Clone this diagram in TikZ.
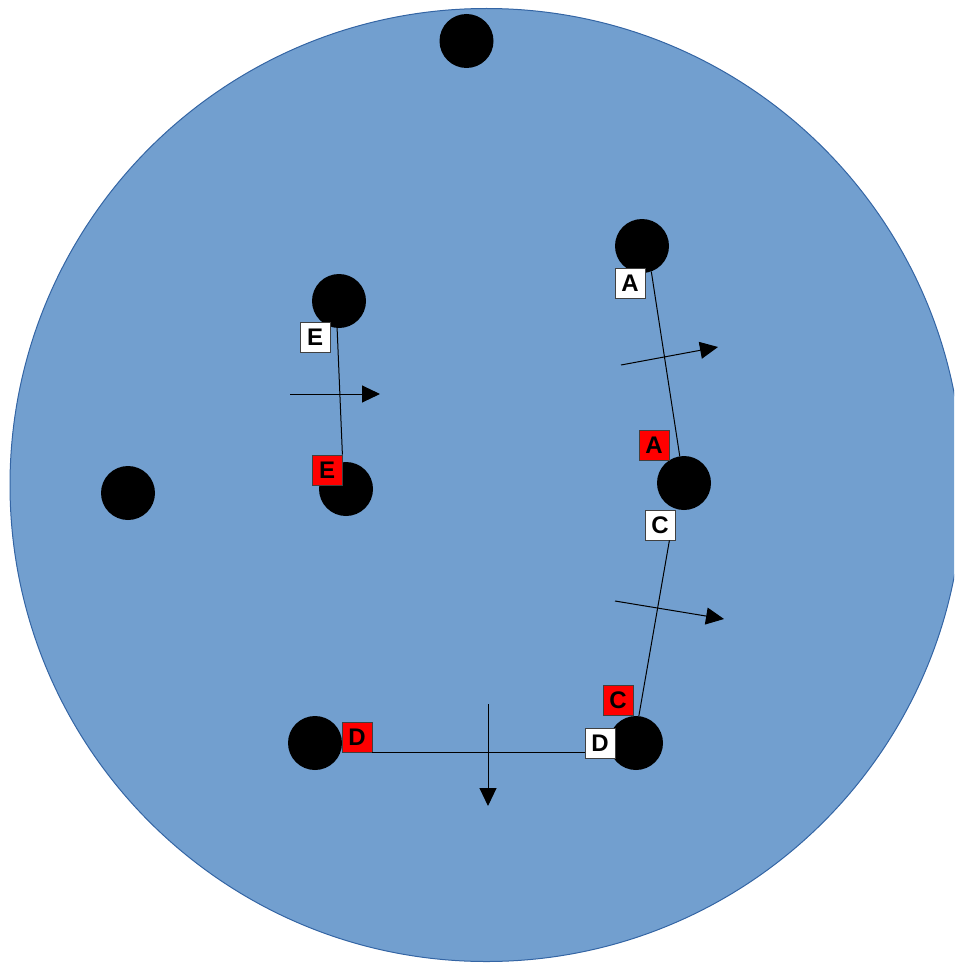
\documentclass[tikz,border=0pt]{standalone}
\usepackage{fontspec}
\setmainfont{Liberation Sans}
\usetikzlibrary{arrows.meta}
\definecolor{disc}{RGB}{114,159,207}
\definecolor{discedge}{RGB}{52,101,164}
\begin{document}
\begin{tikzpicture}[x=1pt,y=-1pt,
    dot/.style={circle,fill=black,minimum size=54pt,inner sep=0pt},
    tag/.style={draw=black!75,line width=0.8pt,minimum size=30pt,inner sep=0pt,
      font=\fontsize{24}{24}\selectfont\bfseries},
    redtag/.style={tag,fill=red},
    whitetag/.style={tag,fill=white},
    link/.style={line width=1pt},
    flow/.style={line width=1pt,-{Triangle[length=18pt,width=17pt]}}]
  \useasboundingbox (0,0) rectangle (954,963);
  \clip (0,0) rectangle (954,963);
  \filldraw[fill=disc,draw=discedge,line width=1pt] (486.5,485) circle[radius=476.5];

  % particles
  \foreach \name/\px/\py in {dotTop/466.5/41, dotLeft/128/493, dotA/642/246,
      dotAC/684/483, dotE/339/301, dotEE/346/489, dotD/315/743, dotCD/636/743} {
    \node[dot] (\name) at (\px,\py) {};
  }

  % labels
  \node[whitetag] (tagA) at (630,283) {A};
  \node[redtag] (tagAred) at (654,445) {A};
  \node[whitetag] (tagC) at (660,525) {C};
  \node[redtag] (tagCred) at (618,700) {C};
  \node[whitetag] (tagD) at (600,743) {D};
  \node[redtag] (tagDred) at (357,737) {D};
  \node[whitetag] (tagE) at (315,337) {E};
  \node[redtag] (tagEred) at (327,470) {E};

  % bonds
  \draw[link] (dotA.-70) -- (dotAC.99);
  \draw[link] ([xshift=-6pt]tagC.south east) -- (dotCD.84);
  \draw[link] (tagDred.south east) -- (tagD.west |- tagDred.south east);
  \draw[link] (dotE.-94) -- (tagEred.north east);

  % flow directions
  \coordinate (flowA0) at (621,365);
  \coordinate (flowA1) at (718,347);
  \coordinate (flowC0) at (615,601);
  \coordinate (flowC1) at (724,619);
  \coordinate (flowD0) at (488,704);
  \coordinate (flowD1) at (488,806);
  \coordinate (flowE0) at (290,394);
  \coordinate (flowE1) at (380,394);
  \draw[flow] (flowA0) -- (flowA1);
  \draw[flow] (flowC0) -- (flowC1);
  \draw[flow] (flowD0) -- (flowD1);
  \draw[flow] (flowE0) -- (flowE1);
\end{tikzpicture}
\end{document}
